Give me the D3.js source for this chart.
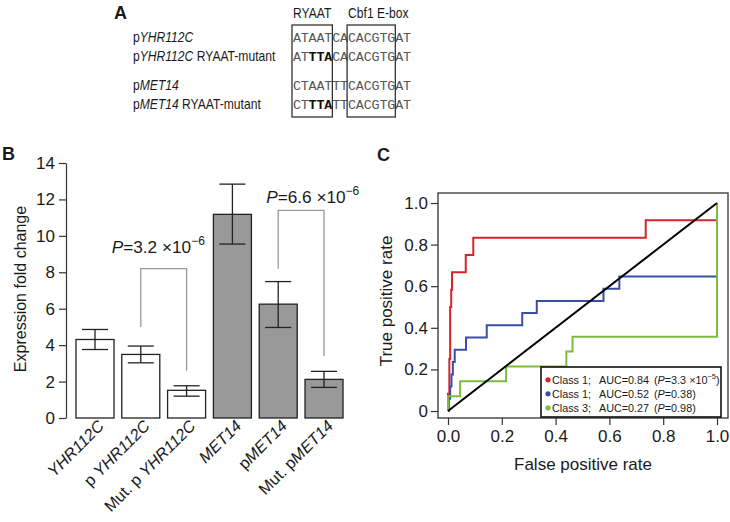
<!DOCTYPE html>
<html><head><meta charset="utf-8">
<script src="https://cdn.jsdelivr.net/npm/d3@7"></script>
<style>
body{margin:0;background:#fff}
svg{display:block}
text{font-family:"Liberation Sans",Arial,Helvetica,sans-serif;fill:#1a1a1a}
</style>
</head><body>
<svg id="chart" width="730" height="522"></svg>
<script>
// ---------------- DATA ----------------
// Panel A
const seqNames = [
  [["p",0],["YHR112C",1]],
  [["p",0],["YHR112C",1],[" RYAAT-mutant",0]],
  [["p",0],["MET14",1]],
  [["p",0],["MET14",1],[" RYAAT-mutant",0]]
];
const sequences = ["ATAATCACACGTGAT","ATTTACACACGTGAT","CTAATTTCACGTGAT","CTTTATTCACGTGAT"];
const mutatedPositions = [[],[2,3,4],[],[2,3,4]];
const motifNames = ["RYAAT","Cbf1 E-box"];
const motifStart = [0,7];
const motifEnd = [5,13];

// Panel B
const categories = ["YHR112C","pYHR112C","Mut. pYHR112C","MET14","pMET14","Mut. pMET14"];
const categoryParts = [
  [["YHR112C",1]],
  [["p ",0],["YHR112C",1]],
  [["Mut. p ",0],["YHR112C",1]],
  [["MET14",1]],
  [["p",0],["MET14",1]],
  [["Mut. p",0],["MET14",1]]
];
const geneGroup = ["YHR112C","YHR112C","YHR112C","MET14","MET14","MET14"];
const foldChange = [4.31, 3.49, 1.52, 11.18, 6.25, 2.12];
const errLow  = [3.76, 3.03, 1.20, 9.55, 4.97, 1.68];
const errHigh = [4.86, 3.95, 1.77, 12.84, 7.49, 2.56];
const yTicksB = [0,2,4,6,8,10,12,14];
const cmpFrom = [1,4];
const cmpTo = [2,5];
const cmpTop = [8.2, 11.4];
const cmpFromEnd = [5.0, 8.2];
const cmpToEnd = [2.6, 3.4];
const cmpMantissa = ["3.2","6.6"];
const cmpExponent = ["\u22126","\u22126"];

// Panel C
const rocFPR = [
  [0,0,0.005,0.005,0.008,0.008,0.012,0.012,0.015,0.015,0.066,0.066,0.094,0.094,0.735,0.735,1,1],
  [0,0.003,0.003,0.008,0.008,0.013,0.013,0.018,0.018,0.025,0.025,0.067,0.067,0.144,0.144,0.276,0.276,0.33,0.33,0.578,0.578,0.637,0.637,1,1],
  [0,0,0.045,0.045,0.216,0.216,0.44,0.44,0.463,0.463,1,1]
];
const rocTPR = [
  [0,0.083,0.083,0.25,0.25,0.5,0.5,0.583,0.583,0.667,0.667,0.75,0.75,0.833,0.833,0.917,0.917,1],
  [0,0,0.059,0.059,0.118,0.118,0.176,0.176,0.235,0.235,0.294,0.294,0.353,0.353,0.412,0.412,0.471,0.471,0.529,0.529,0.588,0.588,0.647,0.647,1],
  [0,0.071,0.071,0.143,0.143,0.214,0.214,0.286,0.286,0.357,0.357,1]
];
const rocClass = ["Class 1;","Class 1;","Class 3;"];
const rocAUC = ["AUC=0.84","AUC=0.52","AUC=0.27"];
const rocPval = [["3.3 \u00d710","\u22125"],["0.38",""],["0.98",""]];
const rocTicks = [0,0.2,0.4,0.6,0.8,1.0];

// ---------------- STYLE ----------------
const rocColors = ["#d5242a","#3a4ea6","#7cbc42"];
const ink = "#1a1a1a";

const svg = d3.select("#chart");

// panel letters
[["A",114,19],["B",2,160],["C",377,161]].forEach(([t,x,y])=>{
  svg.append("text").attr("x",x).attr("y",y).text(t)
    .style("font-weight","bold").style("font-size","18px");
});

// ---------------- PANEL A ----------------
const gA = svg.append("g");
const xSeq = d3.scaleLinear().domain([0,15]).range([293, 293+15*7.87]);
const rowBase = [42, 61, 90, 109];
const narrow = 0.865;
seqNames.forEach((parts,i)=>{
  const t = gA.append("text").attr("transform",`translate(133,${rowBase[i]}) scale(${narrow},1)`).style("font-size","14px");
  parts.forEach(([s,it])=>t.append("tspan").text(s).style("font-style",it?"italic":"normal"));
});
sequences.forEach((s,i)=>{
  s.split("").forEach((ch,j)=>{
    const bold = mutatedPositions[i].includes(j);
    gA.append("text").attr("x",xSeq(j)+3.9).attr("y",rowBase[i])
      .attr("text-anchor","middle")
      .style("font-family","'Liberation Mono','DejaVu Sans Mono',monospace")
      .style("font-size","13.4px")
      .style("font-weight",bold?"bold":"normal")
      .style("fill",bold?"#111":"#555")
      .text(ch);
  });
});
motifNames.forEach((m,k)=>{
  gA.append("rect").attr("x",xSeq(motifStart[k])-1).attr("y",25)
    .attr("width",xSeq(motifEnd[k])-xSeq(motifStart[k])+1).attr("height",92)
    .attr("fill","none").attr("stroke","#333").attr("stroke-width",1.3);
  gA.append("text").attr("transform",`translate(${xSeq(motifStart[k])},18) scale(${narrow},1)`)
    .style("font-size","14px").text(m);
});

// ---------------- PANEL B ----------------
const gB = svg.append("g");
const yB = d3.scaleLinear().domain([0,14]).range([418,163]);
const xB = d3.scaleBand().domain(categories).range([71.4,347.6]).paddingInner(0.17).paddingOuter(0.1);
const fillB = d3.scaleOrdinal().domain(["YHR112C","MET14"]).range(["#ffffff","#999999"]);
const bw = xB.bandwidth();

const axB = gB.append("g").attr("transform","translate(66,0)")
  .call(d3.axisLeft(yB).tickValues(yTicksB).tickSize(7).tickSizeOuter(0).tickPadding(4));
axB.selectAll("path,line").attr("stroke","#333").attr("stroke-width",1.2);
axB.selectAll("text").style("font-size","17px").style("font-family","'Liberation Sans',Arial,sans-serif").attr("fill",ink);

gB.selectAll("rect.bar").data(categories).join("rect").attr("class","bar")
  .attr("x",d=>xB(d)).attr("width",bw)
  .attr("y",(d,i)=>yB(foldChange[i])).attr("height",(d,i)=>yB(0)-yB(foldChange[i]))
  .attr("fill",(d,i)=>fillB(geneGroup[i])).attr("stroke","#222").attr("stroke-width",1.3);

categories.forEach((c,i)=>{
  const cx = xB(c)+bw/2, cap = 13;
  gB.append("line").attr("x1",cx).attr("x2",cx).attr("y1",yB(errLow[i])).attr("y2",yB(errHigh[i])).attr("stroke","#222").attr("stroke-width",1.3);
  [errLow[i],errHigh[i]].forEach(v=>gB.append("line").attr("x1",cx-cap).attr("x2",cx+cap).attr("y1",yB(v)).attr("y2",yB(v)).attr("stroke","#222").attr("stroke-width",1.3));
  const g = gB.append("g").attr("transform",`translate(${cx+10},${427}) rotate(-45)`);
  const t = g.append("text").attr("text-anchor","end").style("font-size","16.2px");
  categoryParts[i].forEach(([s,it])=>t.append("tspan").text(s).style("font-style",it?"italic":"normal"));
});

const pTextDx = [-29,-12], pTextY = [9.05, 11.8];
cmpFrom.forEach((f,k)=>{
  const x1 = xB(categories[f])+bw/2, x2 = xB(categories[cmpTo[k]])+bw/2;
  gB.append("path")
    .attr("d",`M${x1},${yB(cmpFromEnd[k])}V${yB(cmpTop[k])}H${x2}V${yB(cmpToEnd[k])}`)
    .attr("fill","none").attr("stroke","#999").attr("stroke-width",1.3);
  const t = gB.append("text").attr("x",x1+pTextDx[k]).attr("y",yB(pTextY[k])).style("font-size","17.2px");
  t.append("tspan").text("P").style("font-style","italic");
  t.append("tspan").text("="+cmpMantissa[k]+" \u00d710");
  t.append("tspan").text(cmpExponent[k]).attr("dy",-8).style("font-size","12px");
});

// y title B
svg.append("text").attr("transform","translate(26,289) rotate(-90)").attr("text-anchor","middle")
  .style("font-size","16px").text("Expression fold change");

// ---------------- PANEL C ----------------
const gC = svg.append("g");
const xC = d3.scaleLinear().domain([0,1]).range([448,717]);
const yC = d3.scaleLinear().domain([0,1]).range([411,203]);
const fmtX = d=>d.toFixed(1);
const fmtY = d=>d===0?"0":d.toFixed(1);

const axCx = gC.append("g").attr("transform","translate(0,418)")
  .call(d3.axisBottom(xC).tickValues(rocTicks).tickFormat(fmtX).tickSize(7).tickPadding(5));
const axCy = gC.append("g").attr("transform","translate(438,0)")
  .call(d3.axisLeft(yC).tickValues(rocTicks).tickFormat(fmtY).tickSize(7).tickPadding(3));
[axCx,axCy].forEach(a=>{
  a.select(".domain").remove();
  a.selectAll("line").attr("stroke","#333").attr("stroke-width",1.2);
  a.selectAll("text").style("font-size","17px").style("font-family","'Liberation Sans',Arial,sans-serif").attr("fill",ink);
});

gC.append("rect").attr("x",438).attr("y",193).attr("width",290).attr("height",225)
  .attr("fill","none").attr("stroke","#333").attr("stroke-width",1.3);

const line = d3.line().x(d=>xC(d[0])).y(d=>yC(d[1]));
rocFPR.forEach((fx,k)=>{
  const pts = fx.map((v,i)=>[v,rocTPR[k][i]]);
  gC.append("path").attr("d",line(pts)).attr("fill","none")
    .attr("stroke",rocColors[k]).attr("stroke-width",2).attr("stroke-linejoin","miter");
});
gC.append("path").attr("d",line([[0,0],[1,1]])).attr("stroke","#000").attr("stroke-width",2).attr("fill","none");

// legend
gC.append("rect").attr("x",541).attr("y",367).attr("width",180).attr("height",50)
  .attr("fill","#fff").attr("stroke","#111").attr("stroke-width",1.6);
rocClass.forEach((c,k)=>{
  const y = 383.5 + k*14;
  gC.append("circle").attr("cx",548).attr("cy",y-3.7).attr("r",2.6).attr("fill",rocColors[k]);
  gC.append("text").attr("x",552).attr("y",y).style("font-size","10.8px").text(c);
  gC.append("text").attr("x",599).attr("y",y).style("font-size","10.8px").text(rocAUC[k]);
  const t = gC.append("text").attr("x",654).attr("y",y).style("font-size","10.8px");
  t.append("tspan").text("(");
  t.append("tspan").text("P").style("font-style","italic");
  t.append("tspan").text("="+rocPval[k][0]);
  if(rocPval[k][1]) t.append("tspan").text(rocPval[k][1]).attr("dy",-5).style("font-size","7.5px");
  t.append("tspan").text(")").attr("dy",rocPval[k][1]?5:0);
});

svg.append("text").attr("x",583).attr("y",470).attr("text-anchor","middle").style("font-size","17px").text("False positive rate");
svg.append("text").attr("transform","translate(392,301) rotate(-90)").attr("text-anchor","middle").style("font-size","17px").text("True positive rate");
</script>
</body></html>
